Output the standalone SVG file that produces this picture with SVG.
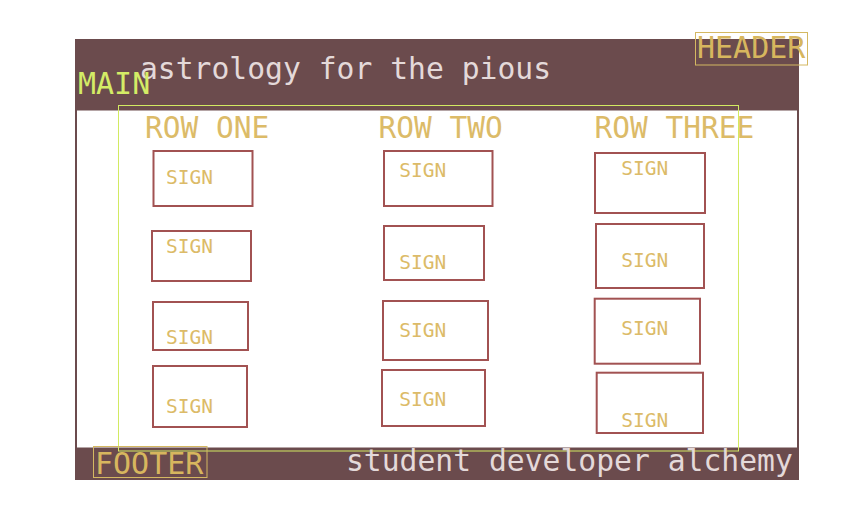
<svg xmlns="http://www.w3.org/2000/svg" width="867" height="517" viewBox="0 0 867 517">
  <style>
    text { font-family: "DejaVu Sans Mono", "Liberation Mono", monospace; }
    .big { font-size: 30px; }
    .light { fill: #e4d9d9; font-size: 29.7px; }
    .gold { fill: #d7b65e; }
    .row { fill: #dcbb68; font-size: 29.5px; }
    .sign rect { fill: none; stroke: #a25252; stroke-width: 2; }
    .sign text { fill: #dcbb68; font-size: 19.5px; }
    .label-box { fill: none; stroke: #d4b862; stroke-width: 1; }
    .outline { fill: none; stroke: #d2ea62; stroke-width: 1; }
  </style>

  <!-- page frame: brown border with header and footer bands -->
  <g id="page">
    <rect x="75" y="39" width="724" height="441" fill="#6b4b4d"/>
    <rect x="77" y="110.5" width="720" height="337" fill="#ffffff"/>
  </g>

  <!-- header -->
  <g id="header">
    <text class="big light" x="140" y="78.5">astrology for the pious</text>
    <rect class="label-box" x="695.5" y="32.5" width="112" height="32.5"/>
    <text class="big gold" x="697" y="58.3">HEADER</text>
  </g>

  <!-- main area -->
  <g id="main">
    <rect class="outline" x="118.5" y="105.5" width="620" height="345.5"/>
    <text class="big" fill="#d4ec66" x="78" y="93.5">MAIN</text>
  </g>

  <!-- column titles -->
  <g id="row-one-title"><text class="row" x="145" y="138.3">ROW ONE</text></g>
  <g id="row-two-title"><text class="row" x="378.5" y="138.3">ROW TWO</text></g>
  <g id="row-three-title"><text class="row" x="594.5" y="138.3">ROW THREE</text></g>

  <!-- column one signs -->
  <g id="sign-1-1" class="sign"><rect x="153.5" y="151" width="99" height="55"/><text x="166" y="184">SIGN</text></g>
  <g id="sign-1-2" class="sign"><rect x="152" y="231" width="99" height="50"/><text x="166" y="252.7">SIGN</text></g>
  <g id="sign-1-3" class="sign"><rect x="153" y="302" width="95" height="48"/><text x="166" y="344">SIGN</text></g>
  <g id="sign-1-4" class="sign"><rect x="153" y="366" width="94" height="61"/><text x="166" y="412.7">SIGN</text></g>

  <!-- column two signs -->
  <g id="sign-2-1" class="sign"><rect x="384" y="151" width="108.5" height="55"/><text x="399.3" y="176.7">SIGN</text></g>
  <g id="sign-2-2" class="sign"><rect x="384" y="226" width="100" height="54"/><text x="399.3" y="268.7">SIGN</text></g>
  <g id="sign-2-3" class="sign"><rect x="383" y="301" width="105" height="59"/><text x="399.3" y="336.7">SIGN</text></g>
  <g id="sign-2-4" class="sign"><rect x="382" y="370" width="103" height="56"/><text x="399.3" y="405.7">SIGN</text></g>

  <!-- column three signs -->
  <g id="sign-3-1" class="sign"><rect x="595" y="153" width="110" height="60"/><text x="621.3" y="175">SIGN</text></g>
  <g id="sign-3-2" class="sign"><rect x="596" y="224" width="108" height="64"/><text x="621.3" y="267">SIGN</text></g>
  <g id="sign-3-3" class="sign"><rect x="594.7" y="298.7" width="105.3" height="65"/><text x="621.3" y="334.7">SIGN</text></g>
  <g id="sign-3-4" class="sign"><rect x="596.7" y="372.7" width="106.3" height="60.3"/><text x="621.3" y="426.7">SIGN</text></g>

  <!-- footer -->
  <g id="footer">
    <rect class="label-box" x="93.5" y="446.5" width="113.5" height="31"/>
    <text class="big gold" x="95" y="473.7">FOOTER</text>
    <text class="big light" x="346" y="470.7">student developer alchemy</text>
  </g>
</svg>
